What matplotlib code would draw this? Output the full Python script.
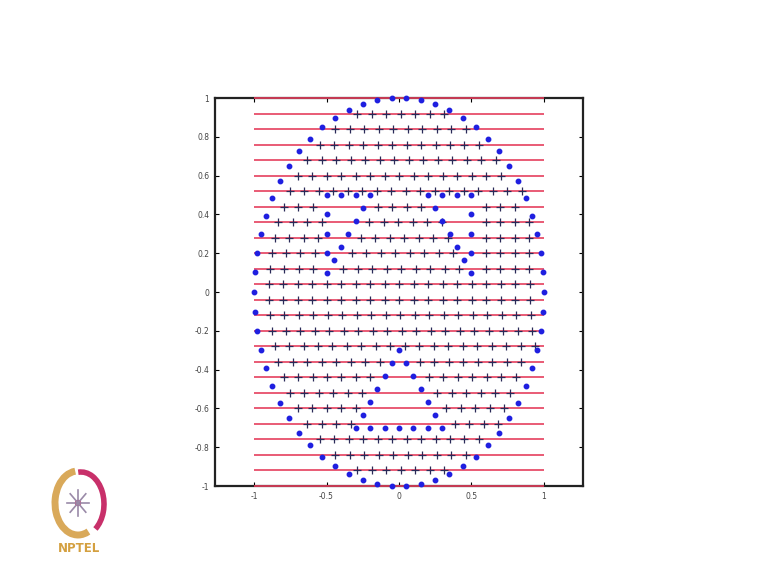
import math
import matplotlib
matplotlib.use("Agg")
import matplotlib.pyplot as plt
from matplotlib.patches import Arc, Circle

# ---------------- data ----------------
outer_x = [1.000, 0.995, 0.980, 0.954, 0.919, 0.874, 0.821, 0.759, 0.689, 0.612, 0.529, 0.440, 0.347, 0.251, 0.151, 0.051,
           -0.051, -0.151, -0.251, -0.347, -0.440, -0.529, -0.612, -0.689, -0.759, -0.821, -0.874, -0.919, -0.954, -0.980, -0.995, -1.000,
           -0.995, -0.980, -0.954, -0.919, -0.874, -0.821, -0.759, -0.689, -0.612, -0.529, -0.440, -0.347, -0.251, -0.151, -0.051,
           0.051, 0.151, 0.251, 0.347, 0.440, 0.529, 0.612, 0.689, 0.759, 0.821, 0.874, 0.919, 0.954, 0.980, 0.995]
outer_y = [0.000, 0.101, 0.201, 0.299, 0.394, 0.485, 0.571, 0.651, 0.725, 0.791, 0.849, 0.898, 0.938, 0.968, 0.988, 0.999,
           0.999, 0.988, 0.968, 0.938, 0.898, 0.849, 0.791, 0.725, 0.651, 0.571, 0.485, 0.394, 0.299, 0.201, 0.101, 0.000,
           -0.101, -0.201, -0.299, -0.394, -0.485, -0.571, -0.651, -0.725, -0.791, -0.849, -0.898, -0.938, -0.968, -0.988, -0.999,
           -0.999, -0.988, -0.968, -0.938, -0.898, -0.849, -0.791, -0.725, -0.651, -0.571, -0.485, -0.394, -0.299, -0.201, -0.101]

left_eye_x = [-0.5, -0.4, -0.3, -0.2, -0.25, -0.3, -0.35, -0.4, -0.45, -0.5, -0.5, -0.5, -0.5]
left_eye_y = [0.5, 0.5, 0.5, 0.5, 0.433, 0.367, 0.3, 0.233, 0.167, 0.1, 0.2, 0.3, 0.4]
right_eye_x = [0.5, 0.4, 0.3, 0.2, 0.25, 0.3, 0.35, 0.4, 0.45, 0.5, 0.5, 0.5, 0.5]
right_eye_y = [0.5, 0.5, 0.5, 0.5, 0.433, 0.367, 0.3, 0.233, 0.167, 0.1, 0.2, 0.3, 0.4]
mouth_x = [0.0, 0.05, 0.1, 0.15, 0.2, 0.25, 0.3, 0.2, 0.1, 0.0, -0.1, -0.2, -0.3, -0.25, -0.2, -0.15, -0.1, -0.05]
mouth_y = [-0.3, -0.367, -0.433, -0.5, -0.567, -0.633, -0.7, -0.7, -0.7, -0.7, -0.7, -0.7, -0.7, -0.633, -0.567, -0.5, -0.433, -0.367]

scan_y = [1.0, 0.92, 0.84, 0.76, 0.68, 0.6, 0.52, 0.44, 0.36, 0.28, 0.2, 0.12, 0.04,
          -0.04, -0.12, -0.2, -0.28, -0.36, -0.44, -0.52, -0.6, -0.68, -0.76, -0.84, -0.92, -1.0]
scan_x0, scan_x1 = -1.0, 1.0

row_092 = [-0.289, -0.189, -0.089, 0.011, 0.111, 0.211, 0.311]
row_084 = [-0.441, -0.341, -0.241, -0.141, -0.041, 0.059, 0.159, 0.259, 0.359, 0.459]
row_076 = [-0.548, -0.448, -0.348, -0.248, -0.148, -0.048, 0.052, 0.152, 0.252, 0.352, 0.452, 0.552]
row_068 = [-0.632, -0.532, -0.432, -0.332, -0.232, -0.132, -0.032, 0.068, 0.168, 0.268, 0.368, 0.468, 0.568, 0.668]
row_060 = [-0.699, -0.599, -0.499, -0.399, -0.299, -0.199, -0.099, 0.001, 0.101, 0.201, 0.301, 0.401, 0.501, 0.601, 0.701]
row_052 = [-0.753, -0.653, -0.553, -0.453, -0.353, -0.253, -0.153, -0.053, 0.047, 0.147, 0.247, 0.347, 0.447, 0.547, 0.647, 0.747, 0.847]
row_044 = [-0.797, -0.697, -0.597, -0.145, -0.045, 0.055, 0.155, 0.6, 0.7, 0.8]
row_036 = [-0.832, -0.732, -0.632, -0.532, -0.205, -0.105, -0.005, 0.095, 0.195, 0.295, 0.6, 0.7, 0.8, 0.9]
row_028 = [-0.859, -0.759, -0.659, -0.559, -0.265, -0.165, -0.065, 0.035, 0.135, 0.235, 0.335, 0.6, 0.7, 0.8, 0.9]
row_020 = [-0.880, -0.780, -0.680, -0.580, -0.325, -0.225, -0.125, -0.025, 0.075, 0.175, 0.275, 0.375, 0.6, 0.7, 0.8, 0.9]
row_012 = [-0.892, -0.792, -0.692, -0.592, -0.385, -0.285, -0.185, -0.085, 0.015, 0.115, 0.215, 0.315, 0.415, 0.6, 0.7, 0.8, 0.9]
row_004 = [-0.898, -0.798, -0.698, -0.598, -0.498, -0.398, -0.298, -0.198, -0.098, 0.002, 0.102, 0.202, 0.302, 0.402, 0.502, 0.602, 0.702, 0.802, 0.902]
row_m004 = [-0.898, -0.798, -0.698, -0.598, -0.498, -0.398, -0.298, -0.198, -0.098, 0.002, 0.102, 0.202, 0.302, 0.402, 0.502, 0.602, 0.702, 0.802, 0.902]
row_m012 = [-0.892, -0.792, -0.692, -0.592, -0.492, -0.392, -0.292, -0.192, -0.092, 0.008, 0.108, 0.208, 0.308, 0.408, 0.508, 0.608, 0.708, 0.808, 0.908]
row_m020 = [-0.880, -0.780, -0.680, -0.580, -0.480, -0.380, -0.280, -0.180, -0.080, 0.020, 0.120, 0.220, 0.320, 0.420, 0.520, 0.620, 0.720, 0.820, 0.920]
row_m028 = [-0.859, -0.759, -0.659, -0.559, -0.459, -0.359, -0.259, -0.159, -0.059, 0.041, 0.141, 0.241, 0.341, 0.441, 0.541, 0.641, 0.741, 0.841, 0.941]
row_m036 = [-0.832, -0.732, -0.632, -0.532, -0.432, -0.332, -0.232, -0.132, 0.145, 0.245, 0.345, 0.445, 0.545, 0.645, 0.745, 0.845]
row_m044 = [-0.797, -0.697, -0.597, -0.497, -0.397, -0.297, -0.197, 0.205, 0.305, 0.405, 0.505, 0.605, 0.705, 0.805]
row_m052 = [-0.753, -0.653, -0.553, -0.453, -0.353, -0.253, 0.265, 0.365, 0.465, 0.565, 0.665, 0.765]
row_m060 = [-0.699, -0.599, -0.499, -0.399, -0.299, 0.325, 0.425, 0.525, 0.625, 0.725]
row_m068 = [-0.632, -0.532, -0.432, -0.332, 0.385, 0.485, 0.585, 0.685]
row_m076 = [-0.548, -0.448, -0.348, -0.248, -0.148, -0.048, 0.052, 0.152, 0.252, 0.352, 0.452, 0.552]
row_m084 = [-0.441, -0.341, -0.241, -0.141, -0.041, 0.059, 0.159, 0.259, 0.359, 0.459]
row_m092 = [-0.289, -0.189, -0.089, 0.011, 0.111, 0.211, 0.311]

fill_rows = [[], row_092, row_084, row_076, row_068, row_060, row_052, row_044, row_036, row_028, row_020,
             row_012, row_004, row_m004, row_m012, row_m020, row_m028, row_m036, row_m044, row_m052,
             row_m060, row_m068, row_m076, row_m084, row_m092, []]

xticks = [-1, -0.5, 0, 0.5, 1]
xtick_labels = ["-1", "-0.5", "0", "0.5", "1"]
yticks = [-1, -0.8, -0.6, -0.4, -0.2, 0, 0.2, 0.4, 0.6, 0.8, 1]
ytick_labels = ["-1", "-0.8", "-0.6", "-0.4", "-0.2", "0", "0.2", "0.4", "0.6", "0.8", "1"]

# ---------------- figure ----------------
W, H = 767, 578
fig = plt.figure(figsize=(W / 100, H / 100), dpi=100)
fig.patch.set_facecolor("white")

ax = fig.add_axes([215 / W, 1 - 486 / H, 368 / W, 388 / H])
ax.set_xlim(-1.27, 1.27)
ax.set_ylim(-1, 1)

red = "#e5405e"
for y in scan_y:
    ax.plot([scan_x0, scan_x1], [y, y], color=red, lw=1.2, zorder=3, clip_on=False,
            solid_capstyle="butt")

for y, xs in zip(scan_y, fill_rows):
    if xs:
        ax.plot(xs, [y] * len(xs), linestyle="none", marker="+", ms=5.5, mew=0.9,
                color="#2a2a58", zorder=4)

dot = dict(linestyle="none", marker="o", ms=3.2, color="#1f1fe0", mec="#1f1fe0", zorder=5, clip_on=False)
ax.plot(outer_x, outer_y, **dot)
ax.plot(left_eye_x, left_eye_y, **dot)
ax.plot(right_eye_x, right_eye_y, **dot)
ax.plot(mouth_x, mouth_y, **dot)

ax.set_xticks(xticks)
ax.set_xticklabels(xtick_labels)
ax.set_yticks(yticks)
ax.set_yticklabels(ytick_labels)
ax.tick_params(direction="in", length=3, width=0.8, labelsize=5.5, labelcolor="#444444",
               top=True, right=True, pad=4)
for sp in ax.spines.values():
    sp.set_linewidth(1.6)
    sp.set_color("#222222")

# ---------------- NPTEL logo ----------------
lax = fig.add_axes([40 / W, 1 - 565 / H, 75 / W, 100 / H])
lax.set_xlim(40, 115)
lax.set_ylim(565, 465)
lax.axis("off")
cx, cy = 78, 503
lax.add_patch(Arc((cx, cy), 46, 64, theta1=70, theta2=265, lw=5, color="#d9a95a"))
lax.add_patch(Arc((cx + 3, cy + 1), 46, 64, theta1=-95, theta2=60, lw=4, color="#c8306a"))
for i in range(8):
    ang = i * math.pi / 4
    lax.plot([cx, cx + 11 * math.cos(ang)], [cy, cy + 13 * math.sin(ang)], color="#9a8aa8", lw=1.2)
lax.add_patch(Circle((cx, cy), 2.5, color="#c8306a"))
lax.text(79, 548, "NPTEL", ha="center", va="center", fontsize=8.5, fontweight="bold",
         color="#d4a040", family="DejaVu Sans")

fig.savefig("out.png", dpi=100, facecolor="white")
